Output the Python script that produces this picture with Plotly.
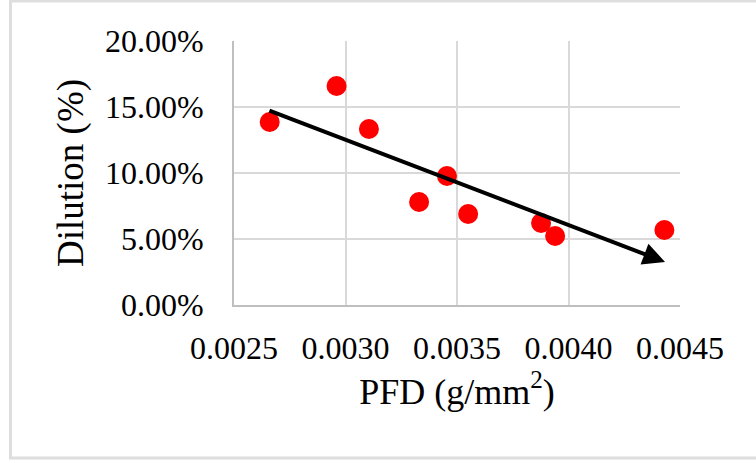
import plotly.graph_objects as go

# Data
pfd = [0.00266, 0.00296, 0.003105, 0.00333, 0.003455, 0.00355, 0.003877, 0.00394, 0.00443]
dilution = [0.1386, 0.1659, 0.1333, 0.0780, 0.0977, 0.0689, 0.0621, 0.0523, 0.0568]
trend_x = [0.002652, 0.004433]
trend_y = [0.1477, 0.0326]
x_ticks = [0.0025, 0.0030, 0.0035, 0.0040, 0.0045]
x_tick_labels = ["0.0025", "0.0030", "0.0035", "0.0040", "0.0045"]
y_ticks = [0.0, 0.05, 0.10, 0.15, 0.20]
y_tick_labels = ["0.00%", "5.00%", "10.00%", "15.00%", "20.00%"]

W, H = 756, 463
ML, MR, MT, MB = 234, 76, 41, 158
pw, ph = W - ML - MR, H - MT - MB

def px_x(p):
    return (p - ML) / pw

def px_y(p):
    return 1 - (p - MT) / ph

fig = go.Figure()
fig.add_trace(go.Scatter(
    x=pfd, y=dilution, mode="markers",
    marker=dict(color="#ff0000", size=20, line=dict(width=0)),
    showlegend=False, hoverinfo="x+y",
))

fig.add_annotation(
    x=trend_x[1], y=trend_y[1], ax=trend_x[0], ay=trend_y[0],
    xref="x", yref="y", axref="x", ayref="y",
    showarrow=True, arrowhead=2, arrowsize=1.1, arrowwidth=4,
    arrowcolor="#000000", text="",
)

# outer frame
fig.add_shape(type="rect", xref="paper", yref="paper",
              x0=px_x(10.5), x1=px_x(770), y0=px_y(458), y1=px_y(1),
              line=dict(color="#dedede", width=3), layer="below")

font_family = "Liberation Serif, Times New Roman, serif"

fig.update_layout(
    width=W, height=H,
    margin=dict(l=ML, r=MR, t=MT, b=MB),
    paper_bgcolor="white", plot_bgcolor="white",
    font=dict(family=font_family, color="#000000"),
    xaxis=dict(
        range=[0.0025, 0.0045], tickvals=x_ticks, ticktext=x_tick_labels,
        showgrid=True, gridcolor="#d9d9d9", gridwidth=2,
        showline=True, linecolor="#bfbfbf", linewidth=2,
        zeroline=False, ticks="", ticklabelstandoff=14,
        tickfont=dict(size=32, family=font_family, color="#000000"),
        title=dict(text="PFD (g/mm<sup>2</sup>)", standoff=12,
                   font=dict(size=36, family=font_family, color="#000000")),
    ),
    yaxis=dict(
        range=[0, 0.2], tickvals=y_ticks, ticktext=y_tick_labels,
        showgrid=True, gridcolor="#d9d9d9", gridwidth=2,
        showline=True, linecolor="#bfbfbf", linewidth=2,
        zeroline=False, ticks="", ticklabelstandoff=22,
        tickfont=dict(size=32, family=font_family, color="#000000"),
        title=dict(text="Dilution (%)", standoff=10,
                   font=dict(size=37, family=font_family, color="#000000")),
    ),
)

fig.write_html("out.html", config={"displayModeBar": False},
               post_script="document.body.style.margin='0';")
